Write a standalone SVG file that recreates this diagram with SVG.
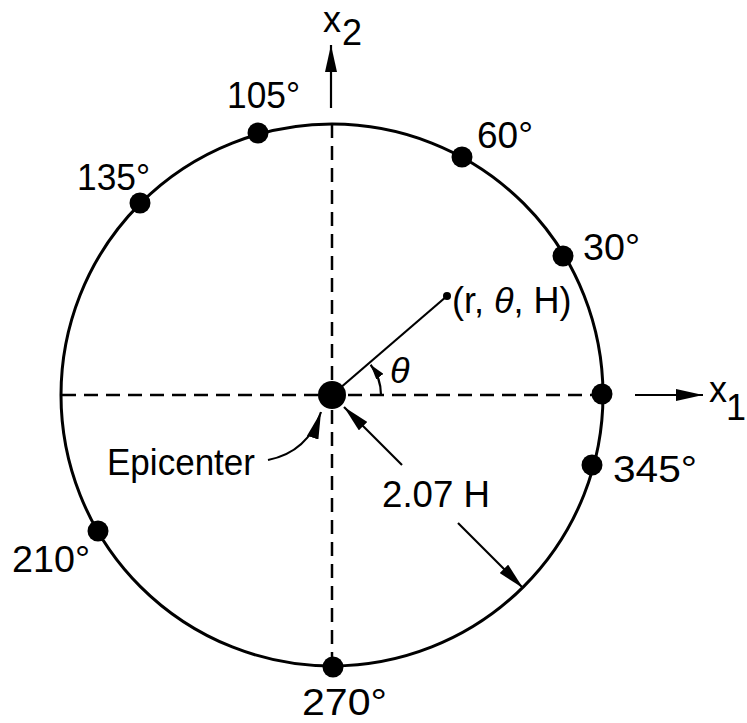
<svg xmlns="http://www.w3.org/2000/svg" width="747" height="723" viewBox="0 0 747 723">
<style>
  .t { font-family: "Liberation Sans", Arial, sans-serif; font-size: 36px; fill: #000; }
  .dash { stroke: #000; stroke-width: 2.5; stroke-dasharray: 14 8; fill: none; }
  .ln { stroke: #000; stroke-width: 2.2; fill: none; }
  .dot { fill: #000; }
</style>
<defs>
  <marker id="ah" viewBox="0 0 27 12" refX="27" refY="6" markerWidth="27" markerHeight="12" markerUnits="userSpaceOnUse" orient="auto">
    <path d="M0,0 L27,6 L0,12 z" fill="#000"/>
  </marker>
  <marker id="ahs" viewBox="0 0 15 9" refX="15" refY="4.5" markerWidth="15" markerHeight="9" markerUnits="userSpaceOnUse" orient="auto">
    <path d="M0,0 L15,4.5 L0,9 z" fill="#000"/>
  </marker>
</defs>
<rect width="747" height="723" fill="#fff"/>

<g id="circle">
  <circle cx="332" cy="395" r="271" fill="none" stroke="#000" stroke-width="3"/>
</g>

<g id="connectors">
  <line class="dash" x1="332" y1="124" x2="332" y2="666"/>
  <line class="dash" x1="62" y1="395" x2="602" y2="395"/>
  <line class="ln" x1="331" y1="108" x2="331" y2="45" marker-end="url(#ah)"/>
  <line class="ln" x1="635" y1="395" x2="703" y2="395" marker-end="url(#ah)"/>
  <line class="ln" x1="332" y1="395" x2="447" y2="296"/>
  <path class="ln" d="M381,395 A49,49 0 0,0 370.6,364.8" marker-end="url(#ahs)"/>
  <path class="ln" d="M268,460 Q308,452 321,412" marker-end="url(#ah)"/>
  <line class="ln" x1="402" y1="465" x2="344" y2="407" marker-end="url(#ah)"/>
  <line class="ln" x1="458" y1="523" x2="523" y2="588" marker-end="url(#ah)"/>
</g>

<g id="epicenter">
  <circle class="dot" cx="332" cy="395" r="14"/>
  <text class="t" x="107" y="475" textLength="148" lengthAdjust="spacingAndGlyphs">Epicenter</text>
</g>

<g id="point">
  <circle class="dot" cx="447" cy="296" r="4"/>
  <text class="t" x="452" y="313" font-size="34">(r, <tspan font-style="italic">θ</tspan>, H)</text>
</g>

<g id="theta">
  <text class="t" x="390" y="383" font-size="30" font-style="italic">θ</text>
</g>

<g id="radius-label">
  <text class="t" x="382" y="507" textLength="108" lengthAdjust="spacingAndGlyphs">2.07 H</text>
</g>

<g id="axis-x2">
  <text class="t" x="323" y="32" font-size="30">x</text>
  <text class="t" x="342" y="45" font-size="30">2</text>
</g>

<g id="axis-x1">
  <text class="t" x="709" y="402" font-size="30">x</text>
  <text class="t" x="726" y="420" font-size="20">1</text>
</g>

<g id="s105">
  <circle class="dot" cx="258" cy="133" r="10.5"/>
  <text class="t" x="227" y="108" textLength="73" lengthAdjust="spacingAndGlyphs">105°</text>
</g>
<g id="s135">
  <circle class="dot" cx="140" cy="203" r="10.5"/>
  <text class="t" x="77" y="190" textLength="73" lengthAdjust="spacingAndGlyphs">135°</text>
</g>
<g id="s60">
  <circle class="dot" cx="462" cy="157" r="10.5"/>
  <text class="t" x="477" y="148" textLength="56" lengthAdjust="spacingAndGlyphs">60°</text>
</g>
<g id="s30">
  <circle class="dot" cx="563" cy="256" r="10.5"/>
  <text class="t" x="583" y="260" textLength="57" lengthAdjust="spacingAndGlyphs">30°</text>
</g>
<g id="s0">
  <circle class="dot" cx="602" cy="394" r="10.5"/>
</g>
<g id="s345">
  <circle class="dot" cx="592" cy="465" r="10.5"/>
  <text class="t" x="613" y="482" textLength="84" lengthAdjust="spacingAndGlyphs">345°</text>
</g>
<g id="s210">
  <circle class="dot" cx="98" cy="531" r="10.5"/>
  <text class="t" x="12" y="572" textLength="78" lengthAdjust="spacingAndGlyphs">210°</text>
</g>
<g id="s270">
  <circle class="dot" cx="333" cy="667" r="10.5"/>
  <text class="t" x="302" y="715" font-size="35" textLength="85" lengthAdjust="spacingAndGlyphs">270°</text>
</g>
</svg>
